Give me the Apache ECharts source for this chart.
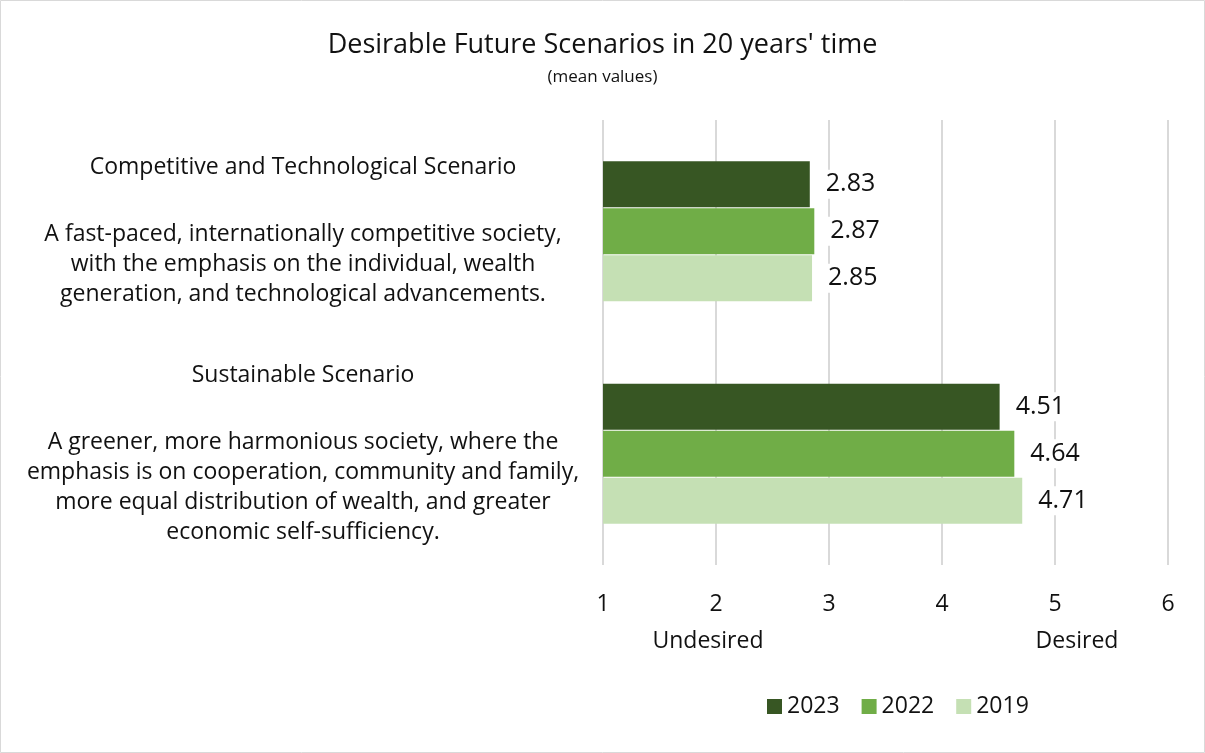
<!DOCTYPE html>
<html>
<head>
<meta charset="utf-8">
<script src="https://cdn.jsdelivr.net/npm/echarts@6/dist/echarts.min.js"></script>
<style>
  html, body { margin: 0; padding: 0; background: #fff; }
  #chart { width: 1205px; height: 753px; }
</style>
</head>
<body>
<div id="chart"></div>
<script>
// Scenario headings and their descriptions (one entry per description line)
const scenarioTitles = ['Competitive and Technological Scenario', 'Sustainable Scenario'];
const scenarioDescriptions = [
  ['A fast-paced, internationally competitive society,',
   'with the emphasis on the individual, wealth',
   'generation, and technological advancements.'],
  ['A greener, more harmonious society, where the',
   'emphasis is on cooperation, community and family,',
   'more equal distribution of wealth, and greater',
   'economic self-sufficiency.']
];

// Mean values per survey year
const years = ['2023', '2022', '2019'];
const values2023 = [2.83, 4.51];
const values2022 = [2.87, 4.64];
const values2019 = [2.85, 4.71];
const yearColors = ['#375623', '#70AD47', '#C5E0B4'];

// Scale end labels
const scaleLow = 'Undesired';
const scaleHigh = 'Desired';

const FONT = '"Open Sans", Lato, sans-serif';
const TEXT = '#111';

const seriesValues = [values2023, values2022, values2019];

const chart = echarts.init(document.getElementById('chart'), null, { renderer: 'canvas' });

const labelWidth = 576;
const option = {
  backgroundColor: '#fff',
  animation: false,
  textStyle: { fontFamily: FONT },
  title: {
    text: "Desirable Future Scenarios in 20 years' time",
    subtext: '(mean values)',
    left: 'center',
    top: 27,
    itemGap: 10,
    textStyle: { fontFamily: FONT, fontSize: 27, fontWeight: 'normal', color: TEXT },
    subtextStyle: { fontFamily: FONT, fontSize: 17, color: TEXT }
  },
  legend: {
    data: years,
    bottom: 30,
    left: 762,
    icon: 'rect',
    itemWidth: 15,
    itemHeight: 15,
    itemGap: 22,
    textStyle: { fontFamily: FONT, fontSize: 23, color: TEXT }
  },
  grid: { left: 603, right: 37, top: 120, bottom: 188 },
  xAxis: {
    type: 'value',
    min: 1,
    max: 6,
    interval: 1,
    axisLine: { show: false },
    axisTick: { show: false },
    splitLine: { lineStyle: { color: '#d9d9d9', width: 2 } },
    axisLabel: { margin: 28, fontFamily: FONT, fontSize: 23, color: TEXT }
  },
  yAxis: {
    type: 'category',
    inverse: true,
    data: scenarioTitles,
    axisLine: { show: false },
    axisTick: { show: false },
    axisLabel: {
      margin: 12,
      formatter: function (v, i) {
        const lines = ['{t|' + v + '}', '{g|}'];
        scenarioDescriptions[i].forEach(function (d) { lines.push('{d|' + d + '}'); });
        return lines.join('\n');
      },
      rich: {
        t: { fontFamily: FONT, fontSize: 23, color: TEXT, lineHeight: 30, width: labelWidth, align: 'center' },
        g: { lineHeight: 37, width: labelWidth },
        d: { fontFamily: FONT, fontSize: 23, color: TEXT, lineHeight: 30, width: labelWidth, align: 'center' }
      }
    }
  },
  graphic: [
    {
      type: 'rect', silent: true,
      shape: { x: 0.5, y: 0.5, width: 1204, height: 752 },
      style: { fill: 'none', stroke: '#d9d9d9', lineWidth: 1 }
    },
    {
      type: 'text', silent: true, x: 708, y: 641,
      style: { text: scaleLow, font: '23px ' + FONT, fill: TEXT, textAlign: 'center', textVerticalAlign: 'middle' }
    },
    {
      type: 'text', silent: true, x: 1077, y: 641,
      style: { text: scaleHigh, font: '23px ' + FONT, fill: TEXT, textAlign: 'center', textVerticalAlign: 'middle' }
    }
  ],
  series: years.map(function (y, k) {
    return {
      name: y,
      type: 'bar',
      data: seriesValues[k],
      barGap: '2%',
      barCategoryGap: '37%',
      itemStyle: { color: yearColors[k] },
      label: {
        show: true,
        position: 'right',
        distance: 11,
        fontFamily: FONT,
        fontSize: 25,
        color: TEXT,
        backgroundColor: '#fff',
        padding: [2, 5],
        formatter: function (p) { return p.value.toFixed(2); }
      }
    };
  })
};

chart.setOption(option);
</script>
</body>
</html>
